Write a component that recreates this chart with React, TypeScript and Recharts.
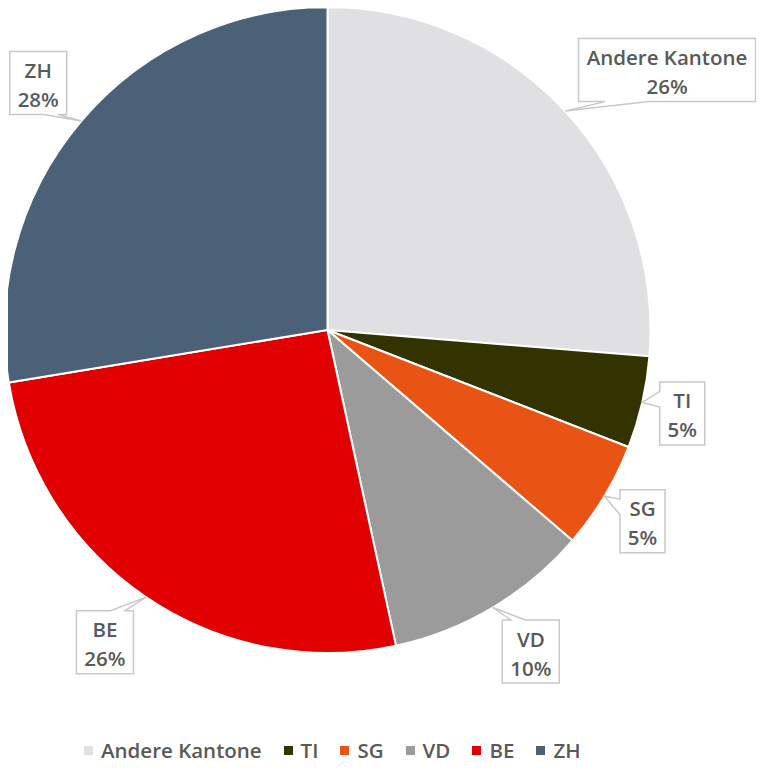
import { PieChart, Pie, Cell } from "recharts";

const cantons = ["Andere Kantone", "TI", "SG", "VD", "BE", "ZH"];
const shares = [26.3, 4.6, 5.4, 10.3, 25.8, 27.6];
const colors = ["#e0e0e2", "#333300", "#e95415", "#9b9b9b", "#e00000", "#4b6177"];

const data = cantons.map((name, i) => ({ name, value: shares[i] }));

const FONT = "'Open Sans', sans-serif";
const TEXT = "#595959";
const SIZE = 20.5;
const RAD = Math.PI / 180;

// where each callout box sits, relative to the slice's outer midpoint
const boxOffset: Record<string, [number, number]> = {
  "Andere Kantone": [102, -41],
  TI: [40, 11],
  SG: [38, 25],
  VD: [38, 44],
  BE: [-41, 45],
  ZH: [-43, -38],
};

let ctx: CanvasRenderingContext2D | null = null;
function textWidth(s: string) {
  if (!ctx) ctx = document.createElement("canvas").getContext("2d");
  if (!ctx) return s.length * 11;
  ctx.font = `600 ${SIZE}px ${FONT}`;
  return ctx.measureText(s).width;
}

function calloutPath(x: number, y: number, w: number, h: number, tx: number, ty: number) {
  const r = x + w;
  const b = y + h;
  if (ty > b || ty < y) {
    const onBottom = ty > b;
    const nearLeft = tx < x + w / 2;
    const a = nearLeft ? x + w * 0.15 : r - w * 0.4;
    const c = nearLeft ? x + w * 0.4 : r - w * 0.15;
    if (onBottom) {
      return `M${x},${y} L${r},${y} L${r},${b} L${c},${b} L${tx},${ty} L${a},${b} L${x},${b} Z`;
    }
    return `M${x},${y} L${a},${y} L${tx},${ty} L${c},${y} L${r},${y} L${r},${b} L${x},${b} Z`;
  }
  const onLeft = tx < x;
  const nearTop = ty < y + h / 2;
  const a = nearTop ? y + h * 0.15 : b - h * 0.4;
  const c = nearTop ? y + h * 0.4 : b - h * 0.15;
  if (onLeft) {
    return `M${x},${y} L${r},${y} L${r},${b} L${x},${b} L${x},${c} L${tx},${ty} L${x},${a} Z`;
  }
  return `M${x},${y} L${r},${y} L${r},${a} L${tx},${ty} L${r},${c} L${r},${b} L${x},${b} Z`;
}

function CalloutLabel(props: any) {
  const { cx, cy, midAngle, outerRadius, name, percent } = props;
  const ax = cx + outerRadius * Math.cos(-midAngle * RAD);
  const ay = cy + outerRadius * Math.sin(-midAngle * RAD);
  const [dx, dy] = boxOffset[name] ?? [0, 0];
  const pct = `${Math.round(percent * 100)}%`;
  const w = Math.round(Math.max(textWidth(name), textWidth(pct)) + 16);
  const h = 63;
  const mx = ax + dx;
  const my = ay + dy;
  const bx = mx - w / 2;
  const by = my - h / 2;
  return (
    <g>
      <path
        d={calloutPath(bx, by, w, h, ax, ay)}
        fill="#ffffff"
        stroke="#c8c8c8"
        strokeWidth={1.5}
      />
      <text
        x={mx}
        y={my - 13}
        textAnchor="middle"
        dominantBaseline="central"
        fill={TEXT}
        fontFamily={FONT}
        fontWeight={600}
        fontSize={SIZE}
      >
        {name}
      </text>
      <text
        x={mx}
        y={my + 16}
        textAnchor="middle"
        dominantBaseline="central"
        fill={TEXT}
        fontFamily={FONT}
        fontWeight={600}
        fontSize={SIZE}
      >
        {pct}
      </text>
    </g>
  );
}

export default function App() {
  return (
    <div style={{ width: 748, background: "#fff", fontFamily: FONT }}>
      <PieChart width={748} height={725} margin={{ top: 0, right: 0, bottom: 0, left: 0 }}>
        <Pie
          data={data}
          dataKey="value"
          nameKey="name"
          cx={319.5}
          cy={322}
          outerRadius={323}
          startAngle={90}
          endAngle={-270}
          stroke="#ffffff"
          strokeWidth={2}
          label={CalloutLabel}
          labelLine={false}
          isAnimationActive={false}
        >
          {data.map((d, i) => (
            <Cell key={d.name} fill={colors[i]} />
          ))}
        </Pie>
      </PieChart>
      <div
        style={{
          height: 34,
          display: "flex",
          alignItems: "center",
          paddingLeft: 76,
          color: TEXT,
          fontWeight: 600,
          fontSize: SIZE,
        }}
      >
        {cantons.map((c, i) => (
          <div key={c} style={{ display: "flex", alignItems: "center", marginRight: 22 }}>
            <span
              style={{
                display: "inline-block",
                width: 9,
                height: 9,
                background: colors[i],
                marginRight: 8,
              }}
            />
            <span>{c}</span>
          </div>
        ))}
      </div>
    </div>
  );
}
